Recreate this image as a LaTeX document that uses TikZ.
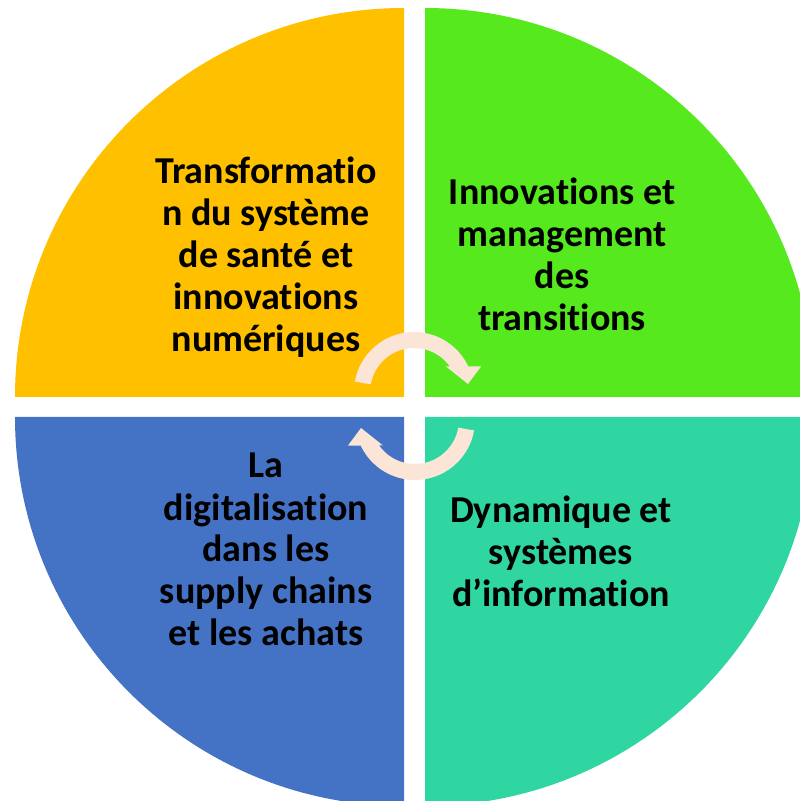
\documentclass[tikz,border=0pt]{standalone}
\usepackage{fontspec}
\setmainfont{Carlito}[Ligatures={NoCommon}]
\definecolor{qyellow}{HTML}{FFC000}
\definecolor{qgreen}{HTML}{55E91E}
\definecolor{qblue}{HTML}{4472C4}
\definecolor{qteal}{HTML}{30D6A2}
\definecolor{peach}{HTML}{FBE5D6}
\tikzset{
  qlabel/.style={align=center, anchor=base, inner sep=0pt, text=black,
    font=\fontsize{28.5}{31.5}\selectfont\bfseries},
  cyclearrow/.style={fill=peach}
}
\newcommand{\cyclearrowpath}{%
  (354.91,419.42) arc[start angle=170, end angle=25.2, radius=60]
  -- (481,434.5) -- (468,417) -- (446,434.5) -- (449.9,434.5)
  arc[start angle=35.4, end angle=170, radius=44] -- cycle}
\begin{document}
\begin{tikzpicture}[x=0.75pt,y=0.75pt]
\useasboundingbox (0,0) rectangle (800,801);
\fill[white] (0,0) rectangle (800,801);
\clip (0,0) rectangle (800,801);
% quadrants
\fill[qyellow] (404,404) -- ++(-389,0) arc[start angle=180, end angle=90, radius=389] -- cycle;
\fill[qgreen] (425,404) -- ++(389,0) arc[start angle=0, end angle=90, radius=389] -- cycle;
\fill[qblue] (404,384) -- ++(-389,0) arc[start angle=180, end angle=270, radius=389] -- cycle;
\fill[qteal] (425,384) -- ++(389,0) arc[start angle=0, end angle=-90, radius=389] -- cycle;
% labels (anchor=base is the baseline of the last line)
\node[qlabel] (tl) at (266,449) {Transformatio\\n du système\\de santé et\\innovations\\numériques};
\node[qlabel] (tr) at (562,470) {Innovations et\\management\\des\\transitions};
\node[qlabel] (bl) at (266,155) {La\\digitalisation\\dans les\\supply chains\\et les achats};
\node[qlabel] (br) at (561,194) {Dynamique et\\systèmes\\d’information};
% circular arrows
\fill[cyclearrow] \cyclearrowpath;
\begin{scope}[rotate around={180:(414.5,395)}]
\fill[cyclearrow] \cyclearrowpath;
\end{scope}
\end{tikzpicture}
\end{document}
